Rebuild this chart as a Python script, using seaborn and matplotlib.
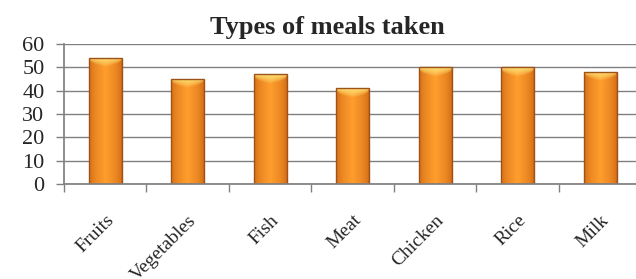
import numpy as np
import pandas as pd
import matplotlib
matplotlib.use("Agg")
import matplotlib.pyplot as plt
import seaborn as sns

# data
meals = ['Fruits', 'Vegetables', 'Fish', 'Meat', 'Chicken', 'Rice', 'Milk']
counts = [54, 45, 47, 41, 50, 50, 48]
y_ticks = [0, 10, 20, 30, 40, 50, 60]

df = pd.DataFrame({'Meal': meals, 'Count': counts})

sns.set_theme(style="white")
plt.rcParams['font.family'] = ['Liberation Serif', 'DejaVu Serif']

fig = plt.figure(figsize=(6.36, 2.79), dpi=100)
ax = fig.add_axes([0.1006, 0.3405, 0.908, 0.502])

sns.barplot(x='Meal', y='Count', data=df, ax=ax, color='#F7931E',
            width=0.4, edgecolor='#9C5218', linewidth=1.0, saturation=1)

ax.set_ylim(0, 60)
ax.set_yticks(y_ticks)
ax.set_xlim(-0.5, len(meals) - 0.5)
ax.yaxis.grid(True, color='#808080', linewidth=1.0)
ax.set_axisbelow(True)

# glossy shading on each bar: darker sides, lighter middle, pale top cap
dark = np.array([0.82, 0.42, 0.08])
light = np.array([1.00, 0.62, 0.18])
cap = np.array([1.00, 0.88, 0.45])
for p in ax.patches:
    x0, y0 = p.get_x(), p.get_y()
    w, h = p.get_width(), p.get_height()
    nx, ny = 40, 300
    xs = np.linspace(0, 1, nx)
    t = (1 - np.abs(2 * xs - 1)) ** 0.6
    row = dark + (light - dark) * t[:, None]
    img = np.repeat(row[None, :, :], ny, axis=0)
    ys = np.linspace(1, 0, ny)  # top row first
    depth = (1 - ys) * h  # data units below the bar top
    # curved cap: deeper in the middle, shallow at the sides
    cap_depth = 1.0 + 3.0 * t ** 0.8
    k = np.clip(1 - depth[:, None] / cap_depth[None, :], 0, 1) ** 0.7
    img = img + (cap - img) * k[:, :, None]
    im = ax.imshow(img, extent=[x0, x0 + w, y0, y0 + h], aspect='auto',
                   zorder=p.get_zorder(), interpolation='bilinear')
    im.set_clip_path(p)
    p.set_facecolor('none')
    p.set_zorder(p.get_zorder() + 0.1)

for side in ['top', 'right']:
    ax.spines[side].set_visible(False)
ax.spines['left'].set_color('#808080')
ax.spines['bottom'].set_color('#808080')

# category boundary ticks on the x axis
ax.set_xticks([i - 0.5 for i in range(len(meals))], minor=True)
ax.tick_params(axis='x', which='minor', length=6, color='#808080', width=1, direction='out', bottom=True)
ax.tick_params(axis='x', which='major', length=0, pad=20)
ax.tick_params(axis='y', length=6, color='#808080', width=1, direction='out', left=True, pad=8)

ax.set_xticks(range(len(meals)))
ax.set_xticklabels(meals, rotation=45, ha='right', rotation_mode='anchor', fontsize=14)
for lbl in ax.get_yticklabels():
    lbl.set_fontsize(16)

ax.set_xlabel('')
ax.set_ylabel('')

fig.text(0.515, 0.90, 'Types of meals taken', ha='center', va='center',
         fontsize=19, fontweight='bold')

fig.savefig('out.png', dpi=100, facecolor='white')
